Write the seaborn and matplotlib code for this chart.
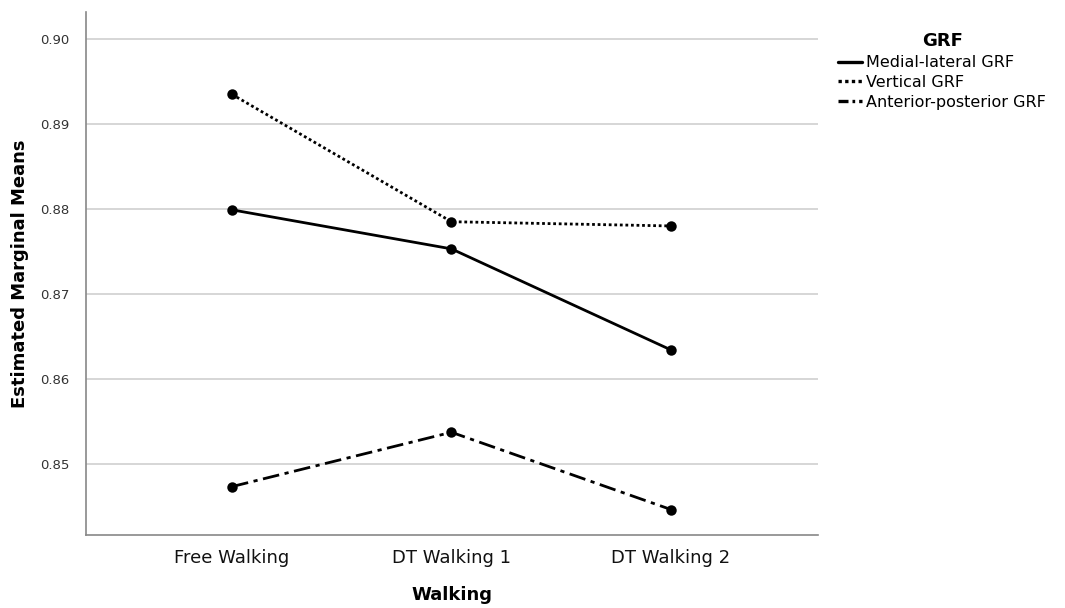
import pandas as pd
import seaborn as sns
import matplotlib.pyplot as plt
from matplotlib.lines import Line2D

# Estimated marginal means
walking = ["Free Walking", "DT Walking 1", "DT Walking 2"]
medial_lateral = [0.8799, 0.8753, 0.8634]
vertical = [0.8935, 0.8785, 0.8780]
anterior_posterior = [0.8473, 0.8537, 0.8446]
grf_names = ["Medial-lateral GRF", "Vertical GRF", "Anterior-posterior GRF"]


def main():
    rows = []
    for name, vals in zip(grf_names, [medial_lateral, vertical, anterior_posterior]):
        for w, v in zip(walking, vals):
            rows.append({"Walking": w, "Mean": v, "GRF": name})
    df = pd.DataFrame(rows)

    sns.set_style("white")
    plt.rcParams["font.family"] = ["DejaVu Sans"]

    fig, ax = plt.subplots(figsize=(10.65, 6.08), dpi=100)
    fig.subplots_adjust(left=86 / 1065, right=818 / 1065, top=1 - 12 / 608, bottom=1 - 535 / 608)

    styles = ["-", (0, (1, 1)), (0, (6, 2, 1.5, 2))]
    sns.pointplot(data=df, x="Walking", y="Mean", hue="GRF", hue_order=grf_names,
                  order=walking, palette=["black"] * 3, linestyles=styles,
                  markers="o", markersize=6, linewidth=2, ax=ax, legend=False)

    ax.set_xlim(-0.665, 2.67)
    ax.set_ylim(0.8416, 0.9032)
    ax.set_yticks([0.85, 0.86, 0.87, 0.88, 0.89, 0.90])
    ax.set_yticklabels(["0.85", "0.86", "0.87", "0.88", "0.89", "0.90"])
    ax.yaxis.grid(True, color="#d0d0d0", linewidth=1.2)
    ax.set_axisbelow(True)
    for s in ["top", "right"]:
        ax.spines[s].set_visible(False)
    for s in ["left", "bottom"]:
        ax.spines[s].set_color("#888888")
        ax.spines[s].set_linewidth(1.2)
    ax.tick_params(axis="y", labelsize=9.5, labelcolor="#333333", length=0, pad=12)
    ax.tick_params(axis="x", labelsize=13, labelcolor="#111111", length=0, pad=10)

    ax.set_xlabel("Walking", fontsize=13, fontweight="bold", labelpad=14, color="black")
    ax.set_ylabel("Estimated Marginal Means", fontsize=13, fontweight="bold", labelpad=8,
                  color="black")

    # shorter dash pattern for the legend so the dot shows in a short handle
    legend_styles = ["-", (0, (1, 1)), (0, (3, 1.2, 0.8, 1.2))]
    handles = [Line2D([0], [0], color="black", linestyle=st, linewidth=2.4) for st in legend_styles]
    leg = fig.legend(handles, grf_names, title="GRF", loc="upper left",
                     bbox_to_anchor=(824 / 1065, 1 - 18 / 608), frameon=False,
                     fontsize=11.5, title_fontproperties={"weight": "bold", "size": 13},
                     handlelength=1.5, handletextpad=0.25, labelspacing=0.3)
    leg.get_title().set_color("black")
    for t in leg.get_texts():
        t.set_color("black")

    fig.savefig("out.png", dpi=100)


if __name__ == "__main__":
    main()
